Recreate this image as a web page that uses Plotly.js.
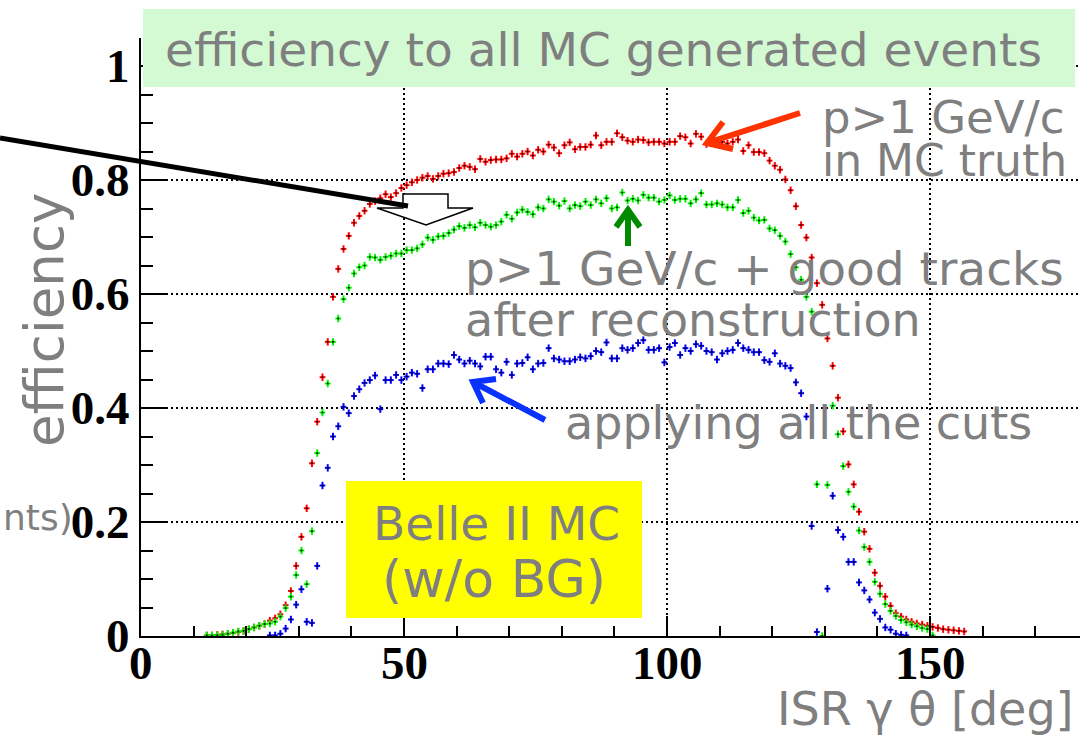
<!DOCTYPE html>
<html>
<head>
<meta charset="utf-8">
<script src="https://cdn.plot.ly/plotly-3.0.1.min.js"></script>
<style>html,body{margin:0;padding:0;overflow:hidden;background:#fff}#chart{width:1080px;height:737px}</style>
</head>
<body>
<div id="chart"></div>
<script>
// ISR photon polar angle bins [deg]
const thetaBins = [
 12.5,13.5,14.5,15.5,16.5,17.5,18.5,19.5,20.5,21.5,
 22.5,23.5,24.5,25.5,26.5,27.5,28.5,29.5,30.5,31.5,
 32.5,33.5,34.5,35.5,36.5,37.5,38.5,39.5,40.5,41.5,
 42.5,43.5,44.5,45.5,46.5,47.5,48.5,49.5,50.5,51.5,
 52.5,53.5,54.5,55.5,56.5,57.5,58.5,59.5,60.5,61.5,
 62.5,63.5,64.5,65.5,66.5,67.5,68.5,69.5,70.5,71.5,
 72.5,73.5,74.5,75.5,76.5,77.5,78.5,79.5,80.5,81.5,
 82.5,83.5,84.5,85.5,86.5,87.5,88.5,89.5,90.5,91.5,
 92.5,93.5,94.5,95.5,96.5,97.5,98.5,99.5,100.5,101.5,
 102.5,103.5,104.5,105.5,106.5,107.5,108.5,109.5,110.5,111.5,
 112.5,113.5,114.5,115.5,116.5,117.5,118.5,119.5,120.5,121.5,
 122.5,123.5,124.5,125.5,126.5,127.5,128.5,129.5,130.5,131.5,
 132.5,133.5,134.5,135.5,136.5,137.5,138.5,139.5,140.5,141.5,
 142.5,143.5,144.5,145.5,146.5,147.5,148.5,149.5,150.5,151.5,
 152.5,153.5,154.5,155.5,156.5,157.5
];
// p>1 GeV/c in MC truth (red)
const effTruth = [
 0.001,0.001,0.002,0.003,0.004,0.005,0.007,0.009,0.012,0.015,
 0.018,0.021,0.027,0.031,0.038,0.054,0.079,0.123,0.174,0.224,
 0.303,0.376,0.454,0.516,0.595,0.644,0.679,0.702,0.725,0.737,
 0.746,0.758,0.763,0.768,0.775,0.770,0.777,0.786,0.791,0.796,
 0.800,0.804,0.807,0.802,0.807,0.811,0.812,0.814,0.821,0.825,
 0.823,0.819,0.837,0.832,0.835,0.836,0.836,0.838,0.846,0.841,
 0.846,0.850,0.843,0.853,0.850,0.862,0.857,0.847,0.861,0.866,
 0.854,0.858,0.858,0.862,0.878,0.861,0.867,0.867,0.882,0.875,
 0.869,0.867,0.871,0.870,0.866,0.867,0.867,0.864,0.867,0.867,
 0.877,0.875,0.864,0.881,0.876,0.863,0.868,0.866,0.867,0.864,
 0.867,0.871,0.851,0.861,0.849,0.849,0.847,0.834,0.825,0.818,
 0.801,0.782,0.754,0.721,0.699,0.664,0.619,0.581,0.522,0.474,
 0.418,0.359,0.301,0.266,0.218,0.183,0.153,0.111,0.088,0.069,
 0.053,0.040,0.034,0.029,0.025,0.022,0.020,0.018,0.016,0.014,
 0.012,0.011,0.010,0.009,0.008,null
];
// p>1 GeV/c + good tracks after reconstruction (green)
const effReco = [
 0.001,0.001,0.001,0.002,0.004,0.006,0.008,0.009,0.012,0.015,
 0.018,0.021,0.022,0.025,0.034,0.049,0.069,0.107,0.150,0.091,
 0.184,0.321,0.392,0.443,0.516,0.557,0.591,0.611,0.636,0.647,
 0.650,0.665,0.664,0.660,0.665,0.667,0.671,0.671,0.677,0.677,
 0.680,0.687,0.699,0.695,0.701,0.702,0.707,0.713,0.719,0.716,
 0.721,0.717,0.725,0.721,0.718,0.721,0.727,0.739,0.732,0.743,
 0.748,0.744,0.740,0.752,0.750,0.766,0.762,0.755,0.763,0.750,
 0.756,0.754,0.762,0.756,0.766,0.759,0.768,0.750,0.752,0.778,
 0.764,0.767,0.764,0.774,0.769,0.769,0.762,0.765,0.773,0.765,
 0.767,0.767,0.759,0.766,0.777,0.757,0.757,0.759,0.757,0.752,
 0.752,0.765,0.742,0.746,0.734,0.729,0.730,0.715,0.712,0.702,
 0.692,0.670,0.647,0.625,0.595,0.569,0.266,0.000,0.265,0.404,
 0.354,0.298,0.253,0.227,0.185,0.156,0.130,0.095,0.074,0.056,
 0.044,0.035,0.028,0.024,0.020,0.017,0.014,0.012,0.001,null,
 null,null,null,null,null,null
];
// applying all the cuts (blue)
const effCuts = [
 null,null,null,null,null,null,null,null,null,null,
 null,null,0.001,0.001,0.004,0.013,0.029,0.055,0.082,0.025,
 0.023,0.123,0.264,0.295,0.350,0.368,0.402,0.391,0.421,0.433,
 0.444,0.449,0.457,0.398,0.449,0.449,0.458,0.449,0.455,0.462,
 0.460,0.435,0.468,0.468,0.478,0.478,0.477,0.493,0.485,0.478,
 0.483,0.478,0.473,0.490,0.490,0.468,0.462,0.481,0.458,0.478,
 0.479,0.489,0.468,0.478,0.479,0.505,0.487,0.485,0.482,0.482,
 0.485,0.489,0.487,0.491,0.500,0.498,0.515,0.487,0.487,0.505,
 0.502,0.505,0.514,0.519,0.502,0.502,0.505,0.480,0.507,0.514,
 0.493,0.505,0.500,0.512,0.509,0.500,0.498,0.485,0.496,0.500,
 0.502,0.514,0.505,0.502,0.498,0.498,0.484,0.481,0.496,0.478,
 0.474,0.470,0.445,0.426,0.385,0.193,0.007,null,0.083,0.246,
 0.186,0.174,0.130,0.130,0.094,0.080,0.064,0.041,0.030,0.015,
 0.011,0.004,0.002,0.001,null,null,null,null,null,null,
 null,null,null,null,null,null
];
const xTickVals = [0, 50, 100, 150];
const xTickText = ['0', '50', '100', '150'];
const yTickVals = [0, 0.2, 0.4, 0.6, 0.8, 1];
const yTickText = ['0', '0.2', '0.4', '0.6', '0.8', '1'];

// ---- layout geometry (pixels) ----
const ML = 141, MT = 38, MB = 101, WIDTH = 1080, HEIGHT = 737;
const PW = WIDTH - ML, PH = HEIGHT - MT - MB, BOTTOM = HEIGHT - MB;
const xMax = PW / 5.26;
const yMax = PH / 570;
const px = x => (x - ML) / PW;
const py = y => (BOTTOM - y) / PH;
const pathOf = segs => segs.map(s => s.map((p, i) => (i ? 'L' : 'M') + px(p[0]).toFixed(5) + ',' + py(p[1]).toFixed(5)).join(' ')).join(' ');

function series(y, color) {
  return {
    x: thetaBins, y: y, type: 'scatter', mode: 'markers', hoverinfo: 'skip',
    marker: {symbol: 'square', size: 1.6, color: '#000', line: {width: 0}},
    error_x: {type: 'constant', value: 0.55, width: 0, thickness: 2, color: color},
    error_y: {type: 'constant', value: 0.0065, width: 0, thickness: 2, color: color}
  };
}
const data = [series(effTruth, '#ff0000'), series(effReco, '#00f000'), series(effCuts, '#0000ff')];

const GRAY = '#7f7f7f';
const TF = 'DejaVu Sans';
function txt(s, x, y, xanchor, size) {
  return {text: s, xref: 'paper', yref: 'paper', x: px(x), y: py(y), xanchor: xanchor, yanchor: 'middle',
          showarrow: false, font: {family: TF, size: size || 46, color: GRAY}};
}
const tickFont = {family: 'Liberation Serif', size: 47, color: '#000', weight: 'bold'};
const annotations = [
  txt('efficiency to all MC generated events', 603, 50, 'center', 47),
  txt('p&gt;1 GeV/c', 820, 117, 'left', 45),
  txt('in MC truth', 820, 160, 'left', 44),
  txt('p&gt;1 GeV/c + good tracks', 463, 268, 'left', 47),
  txt('after reconstruction', 463, 320, 'left', 46),
  txt('applying all the cuts', 563, 423, 'left', 46),
  txt('Belle II MC', 496, 523, 'center', 47),
  txt('(w/o BG)', 494, 579, 'center', 52),
  txt('nts)', 1, 517, 'left', 36),
  txt('ISR γ θ [deg]', 1076, 709, 'right', 46),
  Object.assign(txt('efficiency', 44, 320, 'center', 53), {textangle: -90})
].concat(xTickVals.map((v, i) => ({
  text: xTickText[i], xref: 'x', yref: 'paper', x: v, y: py(663), xanchor: 'center', yanchor: 'middle',
  showarrow: false, font: tickFont
})));

const shapes = [
  {type: 'rect', xref: 'paper', yref: 'paper', x0: px(143), x1: px(1075), y0: py(87), y1: py(9),
   fillcolor: '#d4fad4', line: {width: 0}, layer: 'above'},
  {type: 'rect', xref: 'paper', yref: 'paper', x0: px(346), x1: px(642), y0: py(618), y1: py(481),
   fillcolor: '#ffff00', line: {width: 0}, layer: 'above'},
  {type: 'path', xref: 'paper', yref: 'paper', layer: 'above',
   path: pathOf([[[403,194],[448,194],[448,208],[473,208],[426,225],[377,208],[403,208],[403,194]]]) + ' Z',
   fillcolor: '#ffffff', line: {color: '#000', width: 1.5}},
  {type: 'path', xref: 'paper', yref: 'paper', layer: 'above',
   path: pathOf([[[0,138],[408,206]]]), line: {color: '#000', width: 5}},
  {type: 'path', xref: 'paper', yref: 'paper', layer: 'above',
   path: pathOf([[[800,113],[707,143]], [[723,122],[707,143],[733,149]]]), line: {color: '#ff3300', width: 6}},
  {type: 'path', xref: 'paper', yref: 'paper', layer: 'above',
   path: pathOf([[[628,246],[628,210]], [[616,227],[628,210],[640,227]]]), line: {color: '#008a00', width: 6}},
  {type: 'path', xref: 'paper', yref: 'paper', layer: 'above',
   path: pathOf([[[545,420],[473,382]], [[496,379],[473,382],[483,403]]]), line: {color: '#0a32ff', width: 6}}
];

const layout = {
  width: WIDTH, height: HEIGHT,
  margin: {l: ML, r: 0, t: MT, b: MB, pad: 0},
  paper_bgcolor: '#fff', plot_bgcolor: '#fff', showlegend: false,
  xaxis: {range: [0, xMax], tickvals: xTickVals, ticktext: xTickText, showticklabels: false,
          ticks: 'inside', ticklen: 20, tickwidth: 2,
          tickcolor: '#000', showline: true, linecolor: '#000', linewidth: 2, zeroline: false,
          showgrid: true, gridcolor: '#000', gridwidth: 1.5, griddash: '1.5px,3.5px',
          minor: {dtick: 10, ticks: 'inside', ticklen: 10, tickwidth: 2, tickcolor: '#000', showgrid: false}},
  yaxis: {range: [0, yMax], tickvals: yTickVals, ticktext: yTickText, ticks: 'inside', ticklen: 25, tickwidth: 2,
          tickcolor: '#000', showline: true, linecolor: '#000', linewidth: 2, zeroline: false,
          showgrid: true, gridcolor: '#000', gridwidth: 1.5, griddash: '1.5px,3.5px', tickfont: tickFont,
          ticklabelstandoff: 0,
          minor: {dtick: 0.05, ticks: 'inside', ticklen: 12, tickwidth: 2, tickcolor: '#000', showgrid: false}},
  annotations: annotations,
  shapes: shapes
};
Plotly.newPlot('chart', data, layout, {displayModeBar: false, staticPlot: true});
</script>
</body>
</html>
